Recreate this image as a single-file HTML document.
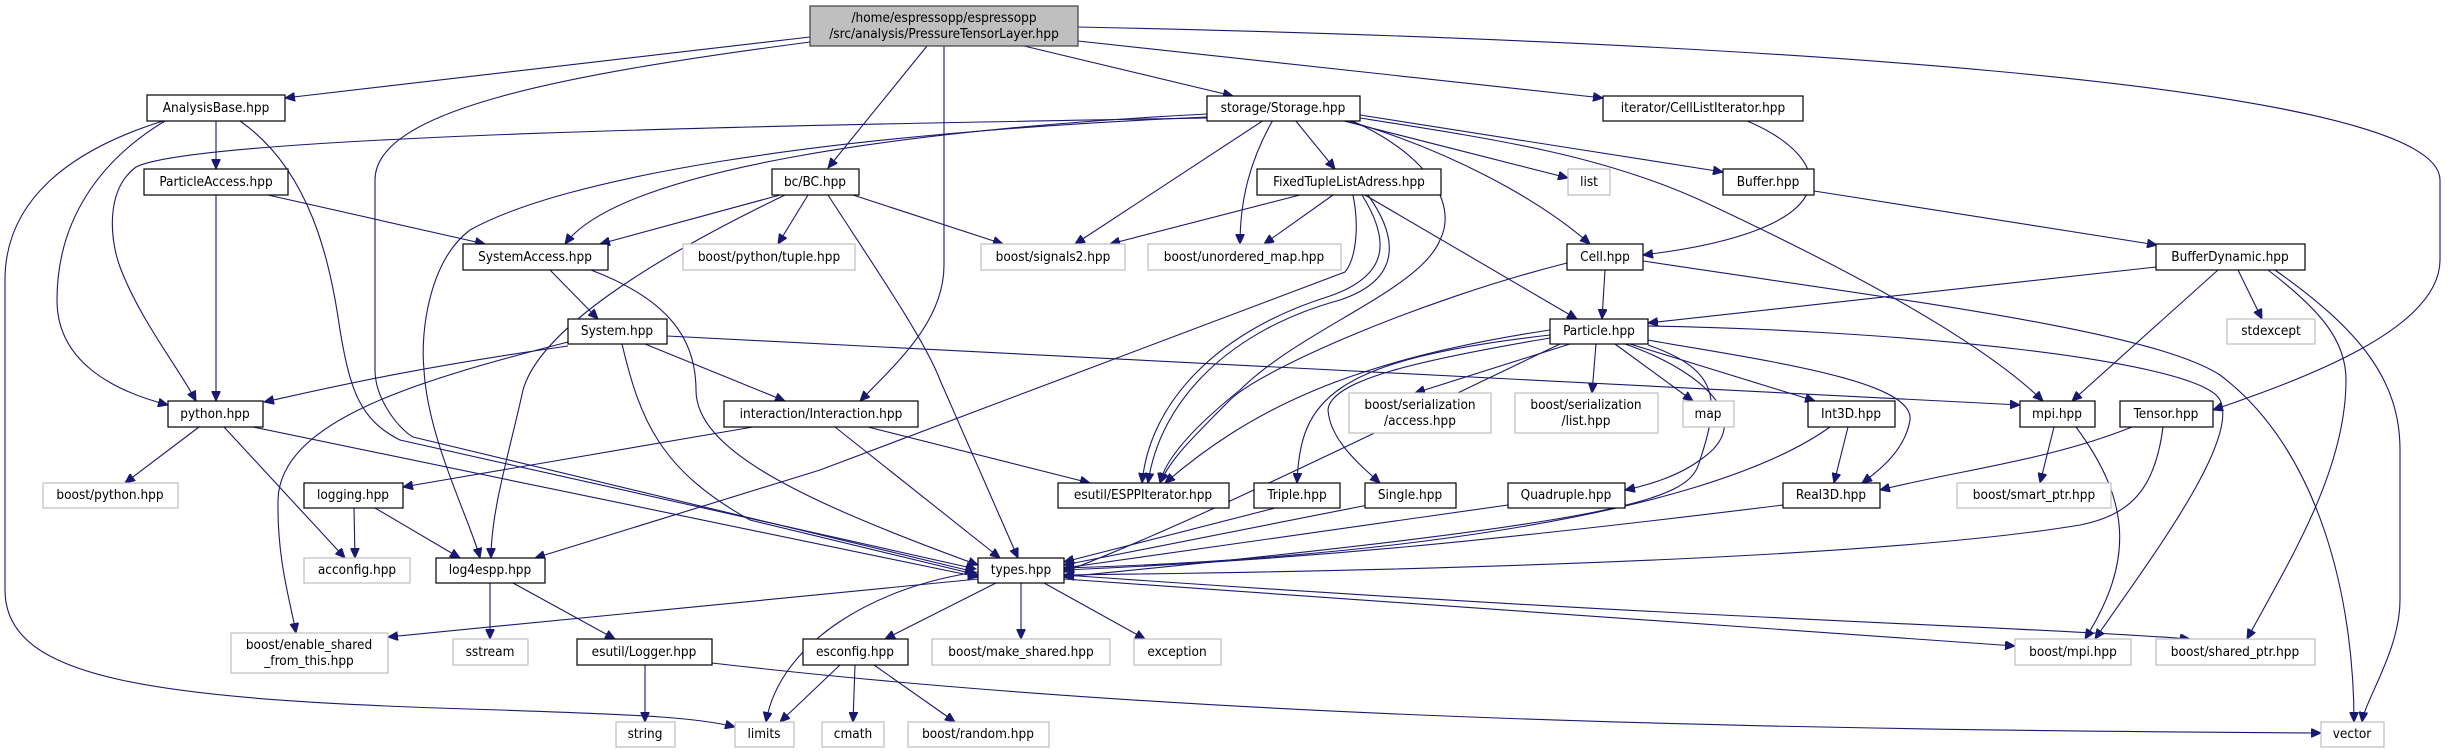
<!DOCTYPE html>
<html><head><meta charset="utf-8"><style>
html,body{margin:0;padding:0;background:#fff}
svg{display:block}
text{font-family:"DejaVu Sans Condensed","DejaVu Sans","Liberation Sans",sans-serif;font-size:13.5px;fill:#000;text-anchor:middle;dominant-baseline:central}
.n{fill:#fff;stroke:#000;stroke-width:1.2}
.g{fill:#fff;stroke:#bfbfbf;stroke-width:1.2}
.e{fill:none;stroke:#191970;stroke-width:1.1;marker-end:url(#a)}
</style></head><body>
<svg width="2456" height="753" viewBox="0 0 2456 753" xmlns="http://www.w3.org/2000/svg">
<defs><marker id="a" markerUnits="userSpaceOnUse" markerWidth="11" markerHeight="9" refX="10" refY="4.5" orient="auto"><path d="M0,0 L10,4.5 L0,9 z" fill="#191970" stroke="#191970"/></marker></defs>
<g>
<path class="e" d="M810,37 L285,98"/>
<path class="e" d="M810,42 C560,75 375,110 375,180 L375,370 C375,400 400,430 413,437 L975,572"/>
<path class="e" d="M240,121 C310,170 330,260 340,330 C350,390 360,420 400,440 L976,569"/>
<path class="e" d="M927,46 L828,168"/>
<path class="e" d="M944,46 L944,265 C944,320 900,360 860,401"/>
<path class="e" d="M1024,46 L1233,96"/>
<path class="e" d="M1078,41 L1603,98"/>
<path class="e" d="M1078,27 C1700,40 2440,80 2440,180 L2440,260 C2440,330 2300,380 2213,410"/>
<path class="e" d="M216,121 L216,169"/>
<path class="e" d="M165,121 C100,160 57,220 57,300 C57,360 110,390 168,405"/>
<path class="e" d="M163,121 C70,150 5,200 5,280 L5,590 C5,680 150,700 500,710 C650,715 700,718 735,727"/>
<path class="e" d="M216,195 L216,401"/>
<path class="e" d="M268,195 L485,244"/>
<path class="e" d="M1207,118 C800,125 200,135 136,167 C105,190 110,240 120,267 C140,320 180,370 196,401"/>
<path class="e" d="M1207,114 C900,130 620,170 565,244"/>
<path class="e" d="M1207,117 C800,135 560,180 470,230 C430,260 420,330 424,370 C428,440 470,520 480,558"/>
<path class="e" d="M1264,120 L1075,244"/>
<path class="e" d="M1273,120 C1250,160 1240,200 1240,244"/>
<path class="e" d="M1295,120 L1335,169"/>
<path class="e" d="M1340,120 L1568,178"/>
<path class="e" d="M1345,120 C1450,150 1540,200 1590,244"/>
<path class="e" d="M1360,115 L1723,172"/>
<path class="e" d="M1360,118 C1500,140 1600,155 1700,200 C1850,270 1980,340 2043,401"/>
<path class="e" d="M1350,120 C1420,150 1460,200 1440,240 C1420,290 1300,330 1240,390 C1190,430 1165,460 1160,483"/>
<path class="e" d="M780,195 L600,244"/>
<path class="e" d="M808,195 L778,244"/>
<path class="e" d="M853,195 L1003,244"/>
<path class="e" d="M785,195 C650,260 540,330 523,390 C510,450 491,510 491,558"/>
<path class="e" d="M828,195 C870,260 925,340 940,380 L1018,558"/>
<path class="e" d="M1300,195 L1110,244"/>
<path class="e" d="M1333,195 L1264,244"/>
<path class="e" d="M1365,195 L1577,319"/>
<path class="e" d="M1353,195 C1360,230 1355,260 1345,272 L820,470 L535,558"/>
<path class="e" d="M1368,195 C1400,240 1400,280 1340,300 C1230,330 1160,400 1148,483"/>
<path class="e" d="M1362,195 C1390,240 1390,275 1330,296 C1220,330 1150,400 1142,483"/>
<path class="e" d="M1745,120 C1840,160 1850,230 1643,255"/>
<path class="e" d="M1814,191 L2157,245"/>
<path class="e" d="M1605,270 L1602,319"/>
<path class="e" d="M1567,263 C1420,300 1260,370 1230,400 C1190,440 1170,460 1160,483"/>
<path class="e" d="M1643,261 C1900,300 2150,330 2220,375 C2320,450 2354,600 2354,722"/>
<path class="e" d="M2156,267 L1648,323"/>
<path class="e" d="M2218,270 L2072,401"/>
<path class="e" d="M2238,270 L2262,319"/>
<path class="e" d="M2268,270 C2320,310 2346,340 2346,380 C2346,470 2290,560 2247,639"/>
<path class="e" d="M2275,270 C2360,330 2400,380 2400,450 L2400,600 C2400,650 2365,700 2362,722"/>
<path class="e" d="M550,270 L598,319"/>
<path class="e" d="M591,270 C670,300 696,340 696,390 C696,450 800,500 978,565"/>
<path class="e" d="M568,346 C400,370 320,390 264,402"/>
<path class="e" d="M568,342 C420,380 280,420 278,500 C277,560 290,600 296,633"/>
<path class="e" d="M645,344 L785,401"/>
<path class="e" d="M622,344 C640,420 660,470 750,520 L978,575"/>
<path class="e" d="M667,336 L2020,405"/>
<path class="e" d="M199,427 L125,483"/>
<path class="e" d="M224,427 L345,558"/>
<path class="e" d="M253,427 L978,577"/>
<path class="e" d="M753,427 L403,487"/>
<path class="e" d="M835,427 L1000,558"/>
<path class="e" d="M868,427 L1090,483"/>
<path class="e" d="M354,508 L355,558"/>
<path class="e" d="M375,508 L460,558"/>
<path class="e" d="M490,583 L490,639"/>
<path class="e" d="M513,583 L615,639"/>
<path class="e" d="M645,665 L645,722"/>
<path class="e" d="M712,663 C1200,720 1800,730 2321,733"/>
<path class="e" d="M996,583 L885,639"/>
<path class="e" d="M1021,583 L1021,639"/>
<path class="e" d="M1044,583 L1145,639"/>
<path class="e" d="M978,572 C880,585 780,640 766,722"/>
<path class="e" d="M978,579 L388,637"/>
<path class="e" d="M1064,579 L2015,646"/>
<path class="e" d="M1064,575 C1700,620 2000,625 2190,639"/>
<path class="e" d="M840,665 L780,722"/>
<path class="e" d="M855,665 L853,722"/>
<path class="e" d="M874,665 L955,722"/>
<path class="e" d="M1570,344 L1415,393"/>
<path class="e" d="M1596,344 L1592,393"/>
<path class="e" d="M1615,344 L1693,401"/>
<path class="e" d="M1630,344 L1815,401"/>
<path class="e" d="M1648,340 C1760,360 1915,380 1910,420 C1905,450 1880,470 1862,483"/>
<path class="e" d="M1550,335 C1330,360 1300,400 1297,483"/>
<path class="e" d="M1550,338 C1420,360 1330,380 1328,410 C1330,440 1360,465 1380,483"/>
<path class="e" d="M1625,344 C1700,370 1760,420 1700,460 C1680,475 1650,485 1625,490"/>
<path class="e" d="M1550,330 C1350,360 1250,410 1165,483"/>
<path class="e" d="M1648,326 C1900,330 2200,360 2220,400 C2240,440 2150,560 2095,639"/>
<path class="e" d="M2076,427 C2130,500 2135,560 2085,639"/>
<path class="e" d="M2054,427 L2040,483"/>
<path class="e" d="M1848,427 L1834,483"/>
<path class="e" d="M1830,427 C1700,520 1350,560 1064,568"/>
<path class="e" d="M2132,427 C2050,460 1960,470 1880,490"/>
<path class="e" d="M2163,427 C2155,490 2130,515 2080,525 C1900,555 1500,570 1064,575"/>
<path class="e" d="M1783,505 C1500,540 1300,560 1064,570"/>
<path class="e" d="M1275,508 L1064,562"/>
<path class="e" d="M1368,505 L1064,565"/>
<path class="e" d="M1508,505 L1064,568"/>
<path class="e" d="M1560,344 C1400,420 1200,520 1064,572"/>
<path class="e" d="M1648,345 C1720,370 1720,400 1700,460 C1690,500 1640,520 1064,577"/>
</g>
<g>
<rect x="810" y="6" width="268" height="40" fill="#bfbfbf" stroke="#404040" stroke-width="1.2"/>
<text x="944" y="18">/home/espressopp/espressopp</text><text x="944" y="34">/src/analysis/PressureTensorLayer.hpp</text>
<rect class="n" x="147" y="95" width="138" height="26"/><text x="216" y="108">AnalysisBase.hpp</text>
<rect class="n" x="1207" y="96" width="153" height="25"/><text x="1283" y="108">storage/Storage.hpp</text>
<rect class="n" x="1603" y="96" width="200" height="25"/><text x="1703" y="108">iterator/CellListIterator.hpp</text>
<rect class="n" x="144" y="169" width="144" height="26"/><text x="216" y="182">ParticleAccess.hpp</text>
<rect class="n" x="772" y="169" width="87" height="26"/><text x="815" y="182">bc/BC.hpp</text>
<rect class="n" x="1257" y="169" width="184" height="26"/><text x="1349" y="182">FixedTupleListAdress.hpp</text>
<rect class="g" x="1568" y="169" width="42" height="26"/><text x="1589" y="182">list</text>
<rect class="n" x="1723" y="169" width="91" height="26"/><text x="1768" y="182">Buffer.hpp</text>
<rect class="n" x="463" y="244" width="145" height="26"/><text x="535" y="257">SystemAccess.hpp</text>
<rect class="g" x="683" y="244" width="172" height="26"/><text x="769" y="257">boost/python/tuple.hpp</text>
<rect class="g" x="981" y="244" width="144" height="26"/><text x="1053" y="257">boost/signals2.hpp</text>
<rect class="g" x="1148" y="244" width="193" height="26"/><text x="1244" y="257">boost/unordered_map.hpp</text>
<rect class="n" x="1567" y="244" width="76" height="26"/><text x="1605" y="257">Cell.hpp</text>
<rect class="n" x="2156" y="244" width="149" height="26"/><text x="2230" y="257">BufferDynamic.hpp</text>
<rect class="n" x="568" y="319" width="99" height="25"/><text x="617" y="331">System.hpp</text>
<rect class="n" x="1550" y="319" width="98" height="25"/><text x="1599" y="331">Particle.hpp</text>
<rect class="g" x="2227" y="319" width="88" height="25"/><text x="2271" y="331">stdexcept</text>
<rect class="n" x="168" y="401" width="95" height="26"/><text x="215" y="414">python.hpp</text>
<rect class="n" x="724" y="401" width="194" height="26"/><text x="821" y="414">interaction/Interaction.hpp</text>
<rect class="g" x="1349" y="393" width="142" height="40"/><text x="1420" y="405">boost/serialization</text><text x="1420" y="421">/access.hpp</text>
<rect class="g" x="1515" y="393" width="143" height="40"/><text x="1586" y="405">boost/serialization</text><text x="1586" y="421">/list.hpp</text>
<rect class="g" x="1683" y="401" width="51" height="26"/><text x="1708" y="414">map</text>
<rect class="n" x="1808" y="401" width="87" height="26"/><text x="1851" y="414">Int3D.hpp</text>
<rect class="n" x="2020" y="401" width="75" height="26"/><text x="2057" y="414">mpi.hpp</text>
<rect class="n" x="2120" y="401" width="93" height="26"/><text x="2166" y="414">Tensor.hpp</text>
<rect class="g" x="43" y="483" width="135" height="25"/><text x="110" y="495">boost/python.hpp</text>
<rect class="n" x="304" y="483" width="99" height="25"/><text x="353" y="495">logging.hpp</text>
<rect class="n" x="1058" y="483" width="171" height="25"/><text x="1143" y="495">esutil/ESPPIterator.hpp</text>
<rect class="n" x="1254" y="483" width="86" height="25"/><text x="1297" y="495">Triple.hpp</text>
<rect class="n" x="1365" y="483" width="91" height="25"/><text x="1410" y="495">Single.hpp</text>
<rect class="n" x="1508" y="483" width="117" height="25"/><text x="1566" y="495">Quadruple.hpp</text>
<rect class="n" x="1783" y="483" width="97" height="25"/><text x="1831" y="495">Real3D.hpp</text>
<rect class="g" x="1957" y="483" width="154" height="25"/><text x="2034" y="495">boost/smart_ptr.hpp</text>
<rect class="g" x="304" y="558" width="106" height="25"/><text x="357" y="570">acconfig.hpp</text>
<rect class="n" x="436" y="558" width="109" height="25"/><text x="490" y="570">log4espp.hpp</text>
<rect class="n" x="978" y="558" width="86" height="25"/><text x="1021" y="570">types.hpp</text>
<rect class="g" x="231" y="633" width="157" height="40"/><text x="309" y="645">boost/enable_shared</text><text x="309" y="661">_from_this.hpp</text>
<rect class="g" x="453" y="639" width="75" height="26"/><text x="490" y="652">sstream</text>
<rect class="n" x="577" y="639" width="135" height="26"/><text x="644" y="652">esutil/Logger.hpp</text>
<rect class="n" x="803" y="639" width="105" height="26"/><text x="855" y="652">esconfig.hpp</text>
<rect class="g" x="932" y="639" width="178" height="26"/><text x="1021" y="652">boost/make_shared.hpp</text>
<rect class="g" x="1134" y="639" width="87" height="26"/><text x="1177" y="652">exception</text>
<rect class="g" x="2015" y="639" width="116" height="26"/><text x="2073" y="652">boost/mpi.hpp</text>
<rect class="g" x="2156" y="639" width="159" height="26"/><text x="2235" y="652">boost/shared_ptr.hpp</text>
<rect class="g" x="616" y="722" width="59" height="25"/><text x="645" y="734">string</text>
<rect class="g" x="735" y="722" width="59" height="25"/><text x="764" y="734">limits</text>
<rect class="g" x="822" y="722" width="62" height="25"/><text x="853" y="734">cmath</text>
<rect class="g" x="908" y="722" width="141" height="25"/><text x="978" y="734">boost/random.hpp</text>
<rect class="g" x="2321" y="722" width="63" height="25"/><text x="2352" y="734">vector</text>
</g>
</svg>
</body></html>
